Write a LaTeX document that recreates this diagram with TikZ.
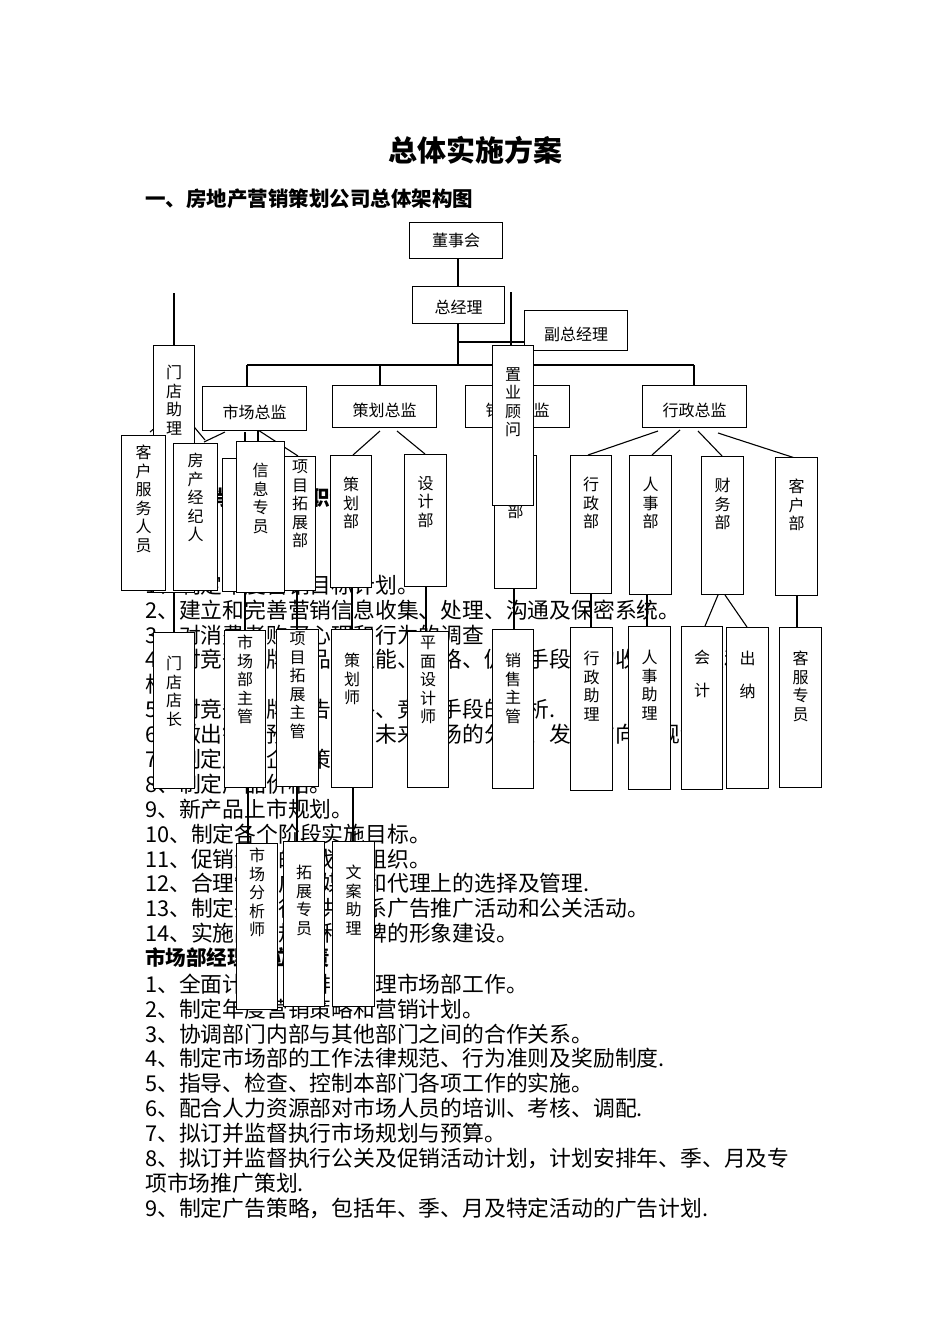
\documentclass[tikz,border=0pt]{standalone}
\usepackage{fontspec}
\setmainfont{Noto Sans CJK SC}
\begin{document}
\begin{tikzpicture}[x=1pt,y=-1pt,
  bx/.style={draw,fill=white,line width=1.1pt,anchor=north west,inner sep=0pt},
  lb/.style={anchor=north,align=center,font=\fontsize{16}{18.5}\selectfont,inner sep=0pt},
  tl/.style={anchor=west,inner sep=0pt,font=\fontsize{21.8}{23}\selectfont},
  ln/.style={line width=1.1pt}]
\useasboundingbox (0,0) rectangle (950,1344);
\node[inner sep=0pt,font=\fontsize{29}{32}\selectfont\bfseries] (title) at (475,150) {总体实施方案};
\node[tl,font=\fontsize{20.5}{22}\selectfont\bfseries] (h1) at (145,199) {一、房地产营销策划公司总体架构图};
\node[tl,font=\fontsize{20.5}{22}\selectfont\bfseries] (h2) at (145,498) {二、营销总监岗位职责};
\foreach \t [count=\i] in {
 {1、制定年度营销目标计划。},
 {2、建立和完善营销信息收集、处理、沟通及保密系统。},
 {3、对消费者购买心理和行为的调查},
 {4、对竞争品牌产品的性能、价格、促销手段等的收集、整理和},
 {析。},
 {5、对竞争品牌广告策略、竞争手段的分析.},
 {6、做出销售预测，提出未来市场的分析、发展方向和规划。},
 {7、制定产品企划策略。},
 {8、制定产品价格。},
 {9、新产品上市规划。},
 {10、制定各个阶段实施目标。},
 {11、促销活动的策划和组织。},
 {12、合理制定广告媒体和代理上的选择及管理.},
 {13、制定并执行公共关系广告推广活动和公关活动。},
 {14、实施品牌规划和品牌的形象建设。}}
 {\node[tl] (a\i) at (145,{560+24.9*\i}) {\t};}
\node[tl,font=\fontsize{20.5}{22}\selectfont\bfseries] (h3) at (145,958) {市场部经理岗位职责};
\foreach \t [count=\i] in {
 {1、全面计划、安排、管理市场部工作。},
 {2、制定年度营销策略和营销计划。},
 {3、协调部门内部与其他部门之间的合作关系。},
 {4、制定市场部的工作法律规范、行为准则及奖励制度.},
 {5、指导、检查、控制本部门各项工作的实施。},
 {6、配合人力资源部对市场人员的培训、考核、调配.},
 {7、拟订并监督执行市场规划与预算。},
 {8、拟订并监督执行公关及促销活动计划，计划安排年、季、月及专},
 {项市场推广策划.},
 {9、制定广告策略，包括年、季、月及特定活动的广告计划.}}
 {\node[tl] (b\i) at (145,{959+24.9*\i}) {\t};}
% connectors
\coordinate (s1) at (174,293);
\coordinate (s2) at (511,292);
\coordinate (j1) at (458,342);
\coordinate (j2) at (458,365);
\coordinate (hl) at (247,365);
\coordinate (hr) at (694,365);
\coordinate (hm) at (380,365);
\draw[ln] (458,258) -- (458,286);
\draw[ln] (458,323) -- (j2);
\draw[ln] (j1) -- (524,342);
\draw[ln] (s2) -- (511,345);
\draw[ln] (hl) -- (hr);
\draw[ln] (hl) -- (247,386);
\draw[ln] (hm) -- (380,385);
\draw[ln] (hr) -- (694,385);
\draw[ln] (s1) -- (174,345);
\draw[ln] (150,432)--(168,417);
\draw[ln] (185,416)--(205,440);
\draw[ln] (225,432)--(204,442);
\draw[ln] (245,432)--(245,458);
\draw[ln] (258,413)--(258,441);
\draw[ln] (258,430)--(298,456);
\draw[ln] (380,431)--(353,455);
\draw[ln] (397,431)--(425,454);
\draw[ln] (515,427)--(515,455);
\draw[ln] (658,431)--(588,455);
\draw[ln] (680,430)--(652,455);
\draw[ln] (698,431)--(722,456);
\draw[ln] (718,433)--(795,458);
\draw[ln] (174,590)--(174,632);
\draw[ln] (245,591)--(245,630);
\draw[ln] (297,590)--(297,629);
\draw[ln] (352,587)--(352,629);
\draw[ln] (426,586)--(426,631);
\draw[ln] (514,588)--(514,629);
\draw[ln] (591,593)--(591,627);
\draw[ln] (647,594)--(647,626);
\draw[ln] (718,595)--(705,626);
\draw[ln] (725,595)--(747,627);
\draw[ln] (797,595)--(797,627);
\draw[ln] (248,787)--(248,843);
\draw[ln] (297,786)--(297,841);
\draw[ln] (353,787)--(353,841);
% boxes
\newcommand\mybox[7]{%
 \node[bx,minimum width={#4-#2},minimum height={#5-#3}] (#1) at (#2,#3) {};
 \node[lb] (#1t) at ([yshift=-#7]#1.north) {#6};}
\node[bx,minimum width=93,minimum height=36] (dsh) at (409,222) {};
\node[font=\fontsize{16}{17}\selectfont] (dsht) at (dsh.center) {董事会};
\node[bx,minimum width=92,minimum height=37] (zjl) at (412,286) {};
\node[font=\fontsize{16}{17}\selectfont] (zjlt) at ([yshift=-2]zjl.center) {总经理};
\node[bx,minimum width=103,minimum height=40] (fzjl) at (524,310) {};
\node[font=\fontsize{16}{17}\selectfont] (fzjlt) at ([yshift=-4]fzjl.center) {副总经理};
\node[bx,minimum width=104,minimum height=44] (sczj) at (202,386) {};
\node[font=\fontsize{16}{17}\selectfont] (sczjt) at ([yshift=-4]sczj.center) {市场总监};
\node[bx,minimum width=104,minimum height=42] (chzj) at (332,385) {};
\node[font=\fontsize{16}{17}\selectfont] (chzjt) at ([yshift=-4]chzj.center) {策划总监};
\node[bx,minimum width=104,minimum height=42] (xszj) at (465,385) {};
\node[font=\fontsize{16}{17}\selectfont] (xszjt) at ([yshift=-4]xszj.center) {销售总监};
\node[bx,minimum width=104,minimum height=42] (xzzj) at (642,385) {};
\node[font=\fontsize{16}{17}\selectfont] (xzzjt) at ([yshift=-4]xzzj.center) {行政总监};
\mybox{mdzl}{153}{345}{194}{592}{门\\店\\助\\理}{20}
\mybox{khfw}{121}{435}{165}{590}{客\\户\\服\\务\\人\\员}{10}
\mybox{fcjj}{173}{443}{217}{590}{房\\产\\经\\纪\\人}{10}
\mybox{scb}{222}{458}{264}{591}{市\\场\\部}{40}
\mybox{xxzy}{236}{441}{284}{592}{信\\息\\专\\员}{22}
\mybox{xmtz}{284}{456}{315}{590}{项\\目\\拓\\展\\部}{4}
\mybox{chb}{330}{455}{371}{587}{策\\划\\部}{22}
\mybox{sjb}{404}{454}{446}{586}{设\\计\\部}{22}
\mybox{xsb}{494}{455}{536}{588}{售\\部}{30}
\mybox{zygw}{492}{345}{533}{505}{置\\业\\顾\\问}{22}
\mybox{xzb}{570}{455}{611}{593}{行\\政\\部}{22}
\mybox{rsb}{629}{455}{671}{594}{人\\事\\部}{22}
\mybox{cwb}{701}{456}{743}{594}{财\\务\\部}{22}
\mybox{khb}{775}{457}{817}{595}{客\\户\\部}{22}
\mybox{mddz}{153}{632}{194}{788}{门\\店\\店\\长}{24}
\mybox{scbzg}{224}{630}{265}{787}{市\\场\\部\\主\\管}{5}
\mybox{xmtzzg}{276}{629}{318}{786}{项\\目\\拓\\展\\主\\管}{3}
\mybox{chs}{331}{629}{372}{787}{策\\划\\师}{24}
\mybox{pmsjs}{407}{631}{448}{787}{平\\面\\设\\计\\师}{5}
\mybox{xszg}{492}{629}{533}{788}{销\\售\\主\\管}{24}
\mybox{xzzl}{570}{627}{612}{790}{行\\政\\助\\理}{24}
\mybox{rszl}{628}{626}{670}{789}{人\\事\\助\\理}{24}
\mybox{kj}{681}{626}{722}{789}{会\\[14pt]计}{24}
\mybox{cn}{726}{627}{768}{788}{出\\[14pt]纳}{24}
\mybox{kfzy}{779}{627}{821}{787}{客\\服\\专\\员}{24}
\mybox{scfxs}{236}{843}{277}{1009}{市\\场\\分\\析\\师}{5}
\mybox{tzzy}{283}{841}{324}{1006}{拓\\展\\专\\员}{24}
\mybox{wazl}{332}{841}{374}{1006}{文\\案\\助\\理}{24}
\end{tikzpicture}
\end{document}
